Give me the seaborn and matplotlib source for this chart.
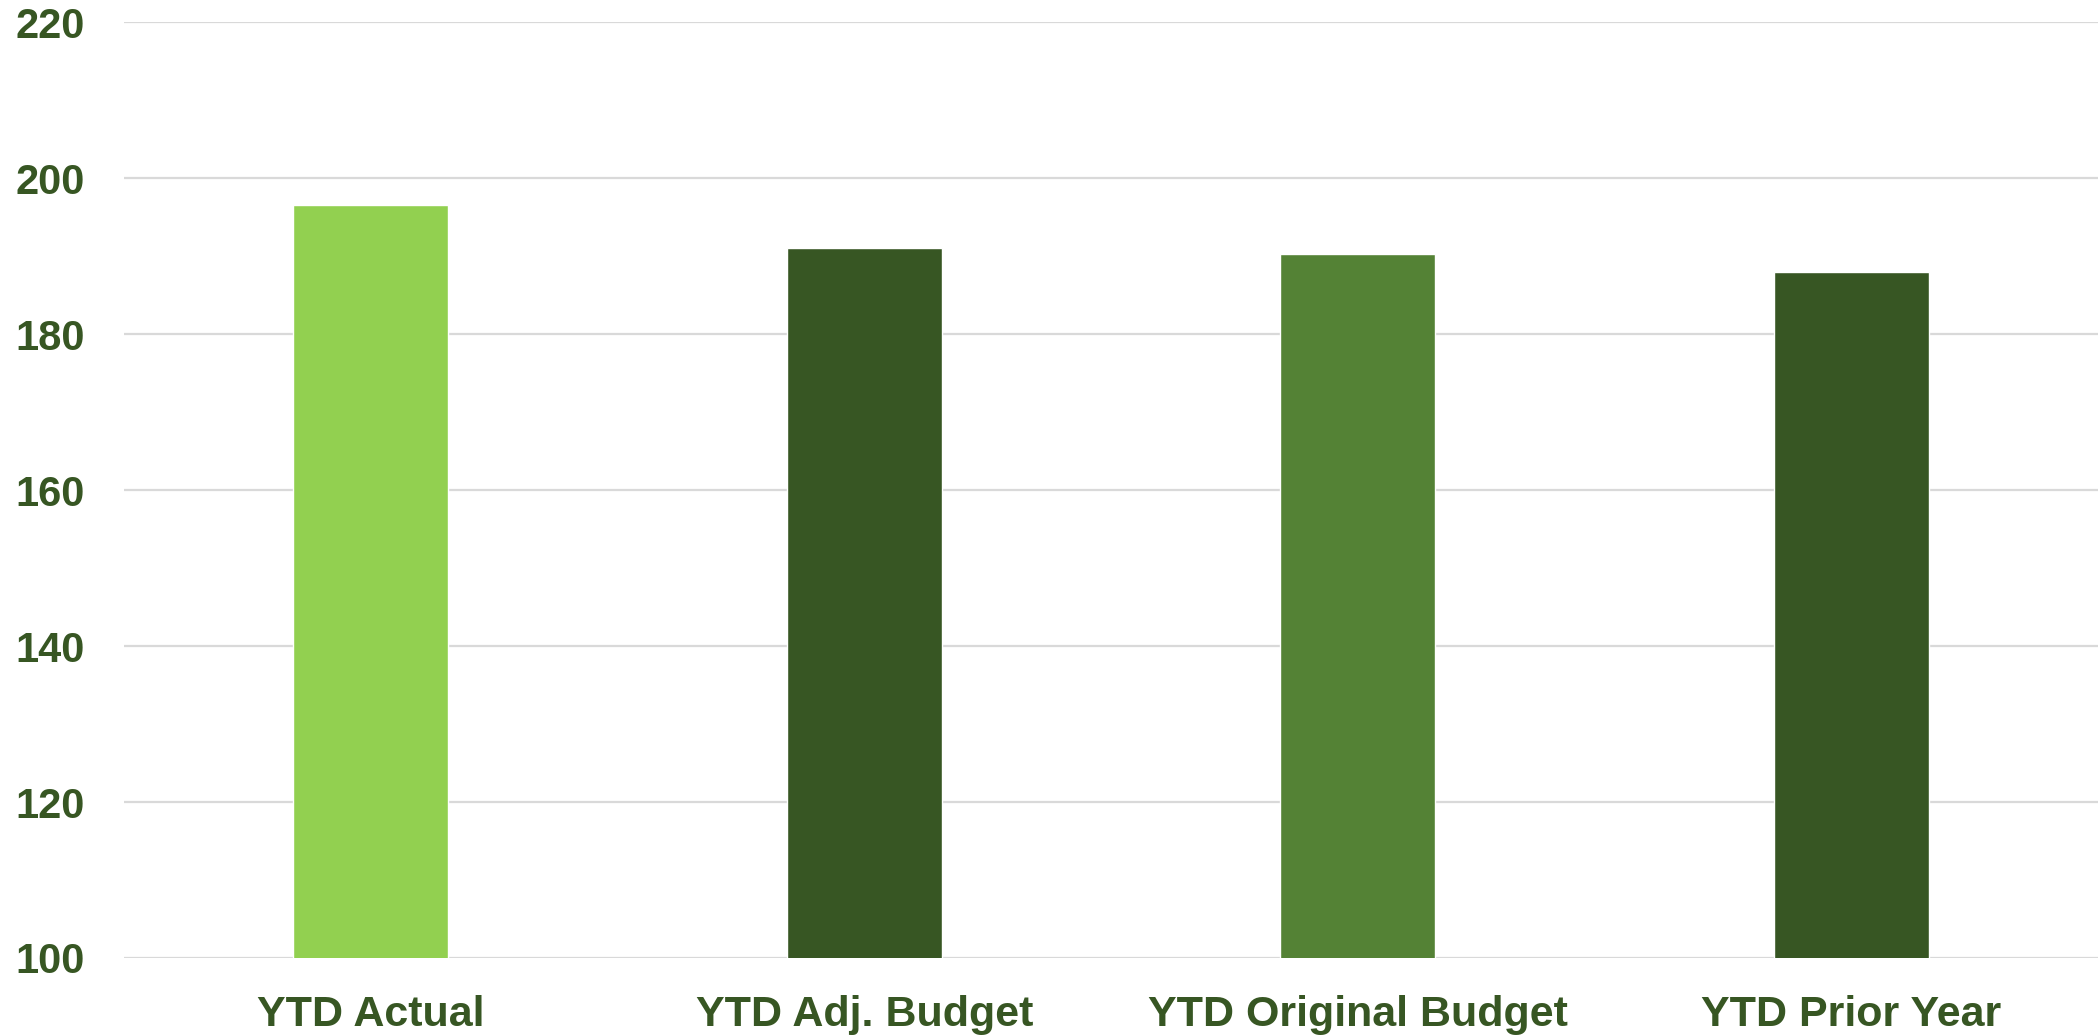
import matplotlib
matplotlib.use("Agg")
import matplotlib.pyplot as plt
import seaborn as sns
import pandas as pd

categories = ["YTD Actual", "YTD Adj. Budget", "YTD Original Budget", "YTD Prior Year"]
values = [196.6, 191.0, 190.3, 187.9]
bar_colors = ["#92D050", "#375623", "#548235", "#375623"]
y_ticks = [100, 120, 140, 160, 180, 200, 220]

text_color = "#375623"

sns.set_theme(style="white")
plt.rcParams["font.family"] = ["Liberation Sans", "DejaVu Sans"]

df = pd.DataFrame({"category": categories, "value": values})

fig = plt.figure(figsize=(20.98, 10.35), dpi=100)
ax = fig.add_axes([0.0591, 0.0744, 0.9409, 0.9043])

sns.barplot(data=df, x="category", y="value", hue="category",
            palette=bar_colors, width=0.314, legend=False, ax=ax,
            saturation=1, zorder=3)

ax.set_ylim(100, 220)
ax.set_xlim(-0.5, 3.5)
ax.set_yticks(y_ticks)
ax.set_yticklabels([str(t) for t in y_ticks])
ax.yaxis.grid(True, color="#D9D9D9", linewidth=1.6, zorder=0)
ax.set_axisbelow(True)
for s in ax.spines.values():
    s.set_visible(False)

ax.set_xlabel("")
ax.set_ylabel("")
ax.tick_params(axis="y", length=0, pad=28, labelsize=30, labelcolor=text_color)
ax.tick_params(axis="x", length=0, pad=27, labelsize=31, labelcolor=text_color)
for lbl in ax.get_xticklabels() + ax.get_yticklabels():
    lbl.set_fontweight("bold")

fig.savefig("out.png", dpi=100)
